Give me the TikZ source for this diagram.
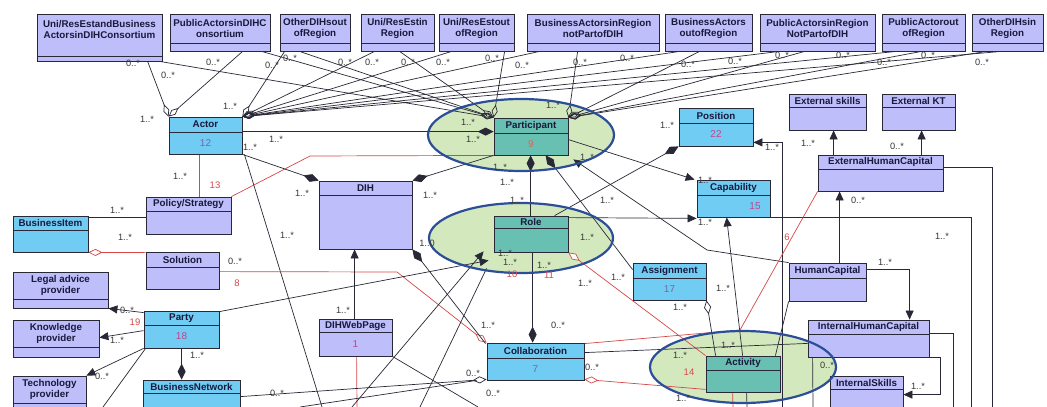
\documentclass[tikz,border=0pt]{standalone}
\usepackage{fontspec}
\setmainfont{Liberation Sans}
\usetikzlibrary{arrows.meta,shapes.geometric,fit,calc}
\pgfdeclarelayer{ellbg}
\pgfdeclarelayer{lines}
\pgfsetlayers{ellbg,lines,main}
\definecolor{cyanbox}{RGB}{112,204,242}
\definecolor{lavbox}{RGB}{190,190,250}
\definecolor{tealbox}{RGB}{104,192,178}
\definecolor{ellfill}{RGB}{212,232,190}
\definecolor{ellline}{RGB}{44,78,152}
\definecolor{edge}{RGB}{40,40,55}
\definecolor{ttl}{RGB}{25,25,60}
\definecolor{mul}{RGB}{55,55,55}
\definecolor{redl}{RGB}{214,72,72}
\definecolor{npurple}{RGB}{120,100,170}
\definecolor{nmag}{RGB}{190,70,140}
\definecolor{nred}{RGB}{200,110,90}
\newcommand\umlbox[9]{%
  \node[boxnode, fill=#2, fit={(#3,#4) (#5,#6)}] (#1) {};
  \draw[sepline] (#3,#7) -- (#5,#7);
  \node[titletext] (#1-t) at ({(#3+#5)/2},{(#4+#7)/2}) {#8};
  \node[numtext] (#1-n) at ({(#3+#5)/2},{(#7+#6)/2}) {#9};
}
\begin{document}
\begin{tikzpicture}[x=1pt,y=-1pt,
  boxnode/.style={draw=edge, line width=0.8pt, inner sep=0pt},
  sepline/.style={draw=edge, line width=0.8pt},
  titletext/.style={font=\bfseries\fontsize{9.8}{11}\selectfont, text=ttl, align=center, inner sep=0pt},
  numtext/.style={font=\fontsize{10}{10}\selectfont, inner sep=0pt},
  mult/.style={font=\fontsize{9.2}{9.5}\selectfont, text=mul, inner sep=0pt},
  redlab/.style={font=\fontsize{9.5}{9.5}\selectfont, text=redl, inner sep=0pt},
  conn/.style={draw=edge, line width=0.7pt},
  redconn/.style={draw=redl, line width=0.7pt},
  comp/.style={-{Diamond[length=16pt,width=8pt]}},
  compstart/.style={{Diamond[length=16pt,width=8pt]}-},
  agg/.style={-{Diamond[length=14pt,width=7pt,fill=white]}},
  aggo/.style={-{Diamond[open,length=13pt,width=6pt]}},
  nav/.style={-{Triangle[length=9pt,width=8pt]}},
  ellnode/.style={ellipse, draw=ellline, line width=2.2pt, inner sep=0pt}
]
\useasboundingbox (0,0) rectangle (1047,407);
\clip (0,0) rectangle (1047,407);
\begin{pgfonlayer}{ellbg}
\fill[white] (0,0) rectangle (1047,407);
\fill[ellfill] (521,135) ellipse [x radius=93, y radius=36];
\fill[ellfill] (521,238) ellipse [x radius=92, y radius=35];
\fill[ellfill] (743,367) ellipse [x radius=93, y radius=36];
\end{pgfonlayer}

% top row
\node[boxnode, fill=lavbox, fit={(37,14) (162,61)}] (t1) {};
\draw[sepline] (37,56) -- (162,56);
\node[titletext] (t1-t) at (99.5,29) {Uni/ResEstandBusiness\\ActorsinDIHConsortium};
\umlbox{t2}{lavbox}{170}{14}{270}{51}{43}{PublicActorsinDIHC\\onsortium}{}
\umlbox{t3}{lavbox}{280}{14}{350}{51}{43}{OtherDIHsout\\ofRegion}{}
\umlbox{t4}{lavbox}{361}{14}{434}{51}{43}{Uni/ResEstin\\Region}{}
\umlbox{t5}{lavbox}{439}{14}{514}{51}{43}{Uni/ResEstout\\ofRegion}{}
\umlbox{t6}{lavbox}{527}{14}{659}{51}{43}{BusinessActorsinRegion\\notPartofDIH}{}
\umlbox{t7}{lavbox}{665}{14}{752}{51}{43}{BusinessActors\\outofRegion}{}
\umlbox{t8}{lavbox}{760}{14}{875}{51}{43}{PublicActorsinRegion\\NotPartofDIH}{}
\umlbox{t9}{lavbox}{882}{14}{965}{51}{43}{PublicActorout\\ofRegion}{}
\umlbox{t10}{lavbox}{972}{14}{1043}{51}{43}{OtherDIHsin\\Region}{}

% main boxes
\umlbox{Actor}{cyanbox}{169}{117}{242}{154}{132}{Actor}{\textcolor{npurple}{12}}
\umlbox{Participant}{tealbox}{494}{118}{568}{155}{133}{Participant}{\textcolor{nred}{9}}
\umlbox{Role}{tealbox}{494}{216}{568}{252}{228}{Role}{}
\umlbox{DIH}{lavbox}{319}{181}{412}{249}{195}{DIH}{}
\umlbox{Policy}{lavbox}{146}{197}{231}{234}{211}{Policy/Strategy}{}
\umlbox{BusinessItem}{cyanbox}{13}{216}{88}{252}{230}{BusinessItem}{}
\umlbox{Solution}{lavbox}{146}{252}{219}{289}{267}{Solution}{}
\umlbox{Legal}{lavbox}{13}{272}{108}{308}{299}{Legal advice\\provider}{}
\umlbox{Knowledge}{lavbox}{13}{320}{99}{357}{347}{Knowledge\\provider}{}
\umlbox{Technology}{lavbox}{13}{376}{86}{420}{403}{Technology\\provider}{}
\umlbox{Party}{cyanbox}{144}{311}{219}{348}{325}{Party}{\textcolor{nmag}{18}}
\umlbox{BusinessNetwork}{cyanbox}{143}{380}{240}{420}{393}{BusinessNetwork}{}
\umlbox{DIHWebPage}{lavbox}{319}{319}{392}{356}{332}{DIHWebPage}{\textcolor{nmag}{1}}
\umlbox{Collaboration}{cyanbox}{487}{343}{584}{380}{358}{Collaboration}{\textcolor{npurple}{7}}
\umlbox{Activity}{tealbox}{706}{356}{780}{392}{370}{Activity}{}
\umlbox{Assignment}{cyanbox}{633}{263}{706}{300}{278}{Assignment}{\textcolor{npurple}{17}}
\umlbox{Position}{cyanbox}{679}{108}{753}{146}{123}{Position}{\textcolor{nmag}{22}}
\umlbox{Capability}{cyanbox}{697}{180}{770}{217}{195}{Capability}{}
\node[numtext, text=nmag] (cap15) at (755,206) {15};
\umlbox{ExtSkills}{lavbox}{789}{94}{866}{130}{107}{External skills}{}
\umlbox{ExtKT}{lavbox}{882}{94}{955}{130}{107}{External KT}{}
\umlbox{ExtHC}{lavbox}{818}{155}{943}{191}{169}{ExternalHumanCapital}{}
\umlbox{HumanCapital}{lavbox}{789}{263}{866}{301}{278}{HumanCapital}{}
\umlbox{IntHC}{lavbox}{808}{320}{929}{357}{334}{InternalHumanCapital}{}
\umlbox{IntSkills}{lavbox}{830}{376}{903}{420}{389}{InternalSkills}{}

% free ends at the bottom edge
\coordinate (bA) at (322,407);
\coordinate (bP) at (782,407);
\coordinate (bC) at (971,407);
\coordinate (bE) at (992,407);
\coordinate (bI) at (953,407);
\coordinate (bJ) at (813,407);
\coordinate (bW) at (357,407);
\coordinate (bW2) at (478,407);
\coordinate (bR1) at (352,407);
\coordinate (bR2) at (420,407);
\coordinate (bB) at (300,407);
\coordinate (bT) at (103,407);
\coordinate (bRa) at (733,407);
\coordinate (bAb) at (747,407);

\begin{pgfonlayer}{lines}
% top fans
\foreach \b/\o/\tg in {t1/111/Actor.north west, t2/73/Actor.north west, t3/5/Actor.north east, t4/14/Actor.north east, t5/13/Actor.north east, t6/13/Actor.north east, t7/15/Actor.north east, t8/20/Actor.north east, t9/15/Actor.north east, t10/30/Actor.north east}
  \draw[conn, aggo] ($(\b.south west)+(\o,0)$) -- (\tg);
\foreach \b/\o/\tg in {t1/123/Participant.north west, t2/92/Participant.north west, t3/20/Participant.north west, t4/39/Participant.north west, t5/66/Participant.north west, t6/51/Participant.north east, t7/35/Participant.north east, t8/45/Participant.north east, t9/40/Participant.north east, t10/15/Participant.north east}
  \draw[conn, aggo] ($(\b.south west)+(\o,0)$) -- (\tg);

\draw[conn, line width=1.2pt, comp] ($(Actor.north east)+(0,15)$) -- ($(Participant.north west)+(0,14)$);
\draw[redconn] (Policy.north east) -- (310,156) -- (Participant.south west);
\draw[redconn] ($(Actor.south west)+(31,0)$) -- ($(Policy.north west)+(54,0)$);
\draw[conn, comp] (Actor.south east) -- (DIH.north west);
\draw[conn] ($(Actor.south east)+(2,0)$) -- (bA);
\draw[conn, comp] (Participant.south west) -- (DIH.north east);
\draw[conn, comp] ($(Role.north west)+(37,0)$) -- ($(Participant.south west)+(37,0)$);
\draw[conn, comp] ($(Assignment.north west)+(0,7)$) -- ($(Participant.south west)+(52,0)$);
\draw[conn, nav] (HumanCapital.north west) -- (707,250) -- ($(Participant.south east)+(5,4)$);
\draw[conn, nav] ($(Participant.north east)+(0,22)$) -- ($(Capability.north west)+(-2,0)$);
\draw[conn, comp] ($(Role.north west)+(61,0)$) -- (Position.south west);
\draw[conn, nav] ($(Role.north east)+(0,2)$) -- ($(Capability.south west)+(0,1)$);
\draw[conn, nav] ($(Activity.north west)+(37,0)$) -- ($(Capability.south west)+(30,0)$);
\draw[conn, nav] (bP) |- ($(Position.south east)+(0,-4)$);
\draw[conn] (Capability.south east) -| (bC);
\draw[conn] ($(ExtHC.north east)+(0,13)$) -| (bE);
\draw[conn, nav] ($(ExtHC.north west)+(16,0)$) -- ($(ExtSkills.south west)+(45,0)$);
\draw[conn, nav] ($(ExtHC.north west)+(104,0)$) -- ($(ExtKT.south west)+(40,0)$);
\draw[conn, nav] ($(HumanCapital.north west)+(51,0)$) -- ($(ExtHC.south west)+(22,0)$);
\draw[conn, nav] ($(HumanCapital.north east)+(0,7)$) -| ($(IntHC.north west)+(102,0)$);
\draw[conn] ($(IntHC.north east)+(0,14)$) -| (bI);
\draw[conn, nav] (IntHC.south east) -- ++(11,0) |- ($(IntSkills.north east)+(0,19)$);
\draw[conn] ($(IntHC.south west)+(5,0)$) -- (bJ);
\draw[redconn] (ExtHC.south west) -- (740,330) -- ($(Collaboration.north east)+(0,1)$);
\draw[conn] (HumanCapital.south west) -- ($(Activity.north east)+(-5,0)$);
\draw[conn, agg] ($(Activity.north west)+(10,0)$) -- (Assignment.south east);
\draw[redconn, agg] (Activity.north west) -- (Role.south east);
\draw[redconn, agg] ($(Activity.south west)+(0,-3)$) -- ($(Collaboration.south east)+(0,-1)$);
\draw[conn] ($(Collaboration.north east)+(0,10)$) -- ($(IntHC.south west)+(0,-14)$);
\draw[conn, comp] ($(Role.south west)+(39,0)$) -- ($(Collaboration.north west)+(46,0)$);
\draw[redconn, agg] ($(Solution.north east)+(0,20)$) -- (397,272) -- (Collaboration.north west);
\draw[conn, compstart] (DIH.south east) -- ($(Collaboration.north west)+(-1,1)$);
\draw[conn, nav] ($(DIHWebPage.north west)+(36,0)$) -- ($(DIH.south west)+(36,0)$);
\draw[redconn] ($(DIHWebPage.south west)+(38,0)$) -- (bW);
\draw[conn] (DIHWebPage.south east) -- (bW2);
\draw[conn, nav] ($(Party.north east)+(0,1)$) -- ($(Role.south west)+(-5,8)$);
\draw[conn, nav] (bR1) -- ($(Role.south west)+(-10,-1)$);
\draw[conn] (bR2) -- ($(Role.south west)+(-7,16)$);
\draw[conn, agg] ($(BusinessNetwork.north east)+(0,17)$) -- ($(Collaboration.south west)+(0,-1)$);
\draw[conn] (bB) -- ($(Collaboration.south west)+(-10,0)$);
\draw[conn, nav] ($(Party.north west)+(0,2)$) -- (Legal.south east);
\draw[conn, nav] ($(Party.north west)+(0,20)$) -- ($(Knowledge.north east)+(0,18)$);
\draw[conn, nav] (Party.south west) -- (Technology.north east);
\draw[conn] ($(Party.south west)+(2,0)$) -- (bT);
\draw[conn, line width=1.2pt, comp] ($(Party.south west)+(38,0)$) -- ($(BusinessNetwork.north west)+(39,0)$);
\draw[conn] ($(BusinessItem.north east)+(0,2)$) -- ($(Policy.north west)+(0,21)$);
\draw[redconn, agg] ($(Solution.north west)+(0,1)$) -- (BusinessItem.south east);
\draw[redconn] ($(Activity.south west)+(27,0)$) -- (bRa);
\draw[conn] ($(Activity.south west)+(41,0)$) -- (bAb);
\end{pgfonlayer}

% ellipse outlines
\node[ellnode, minimum width=186pt, minimum height=72pt] (partEll) at (521,135) {};
\node[ellnode, minimum width=184pt, minimum height=70pt] (roleEll) at (521,238) {};
\node[ellnode, minimum width=186pt, minimum height=72pt] (actEll) at (743,367) {};

% multiplicity labels
\foreach \x/\y [count=\i] in {133/63,168/75,213/62,272/65,290/58,345/62,372/62,408/62,443/62,492/58,522/65,580/62,627/58,688/64,735/61,782/55,843/55,884/62,928/55,982/62,858/200,897/146,127/310,102/376,235/261,558/325,592/367,827/365,277/393,473/373,493/393}
  \node[mult] (za\i) at (\x,\y) {0..*};
\foreach \x/\y [count=\i] in {147/119,230/106,250/147,276/139,180/176,302/193,287/235,117/210,125/237,430/195,468/122,473/139,500/167,553/105,507/182,517/200,607/200,667/125,705/180,705/222,772/147,808/143,942/236,885/262,918/386,723/288,680/307,618/277,585/283,544/265,488/325,343/310,197/355,117/340,680/355,728/345,683/398,587/157,505/253,510/262,587/237}
  \node[mult] (zb\i) at (\x,\y) {1..*};
\node[mult] (zc1) at (427,243) {1..0};
\node[redlab] (r13) at (215,185) {13};
\node[redlab] (r8) at (237,283) {8};
\node[redlab] (r19) at (135,322) {19};
\node[redlab] (r10) at (512,274) {10};
\node[redlab] (r11) at (549,275) {11};
\node[redlab] (r14) at (689,372) {14};
\node[redlab] (r6) at (787,237) {6};
\end{tikzpicture}
\end{document}
